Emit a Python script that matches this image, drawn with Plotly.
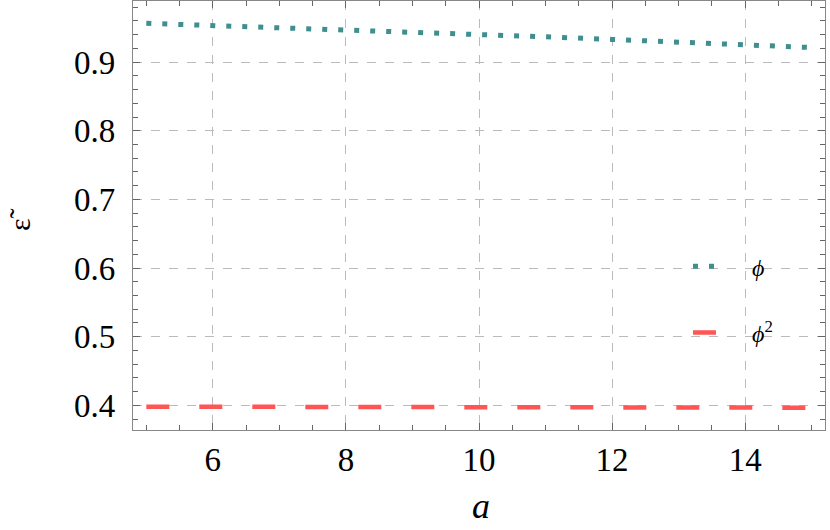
import plotly.graph_objects as go

a_vals = [5, 6, 7, 8, 9, 10, 11, 12, 13, 14, 15]
eps_phi = [0.9565, 0.9535, 0.9503, 0.9470, 0.9437, 0.9403, 0.9368, 0.9330, 0.9290, 0.9252, 0.9212]
eps_phi2 = [0.3980, 0.3979, 0.3977, 0.3976, 0.3974, 0.3973, 0.3971, 0.3970, 0.3968, 0.3967, 0.3965]

serif = "Liberation Serif"
pad = "&nbsp;" * 4

fig = go.Figure()
fig.add_trace(go.Scatter(
    x=a_vals, y=eps_phi, mode="lines", name=pad + "<i>ϕ</i>", legendgroup="g1",
    line=dict(color="#3f8f8f", width=5, dash="5px,11px"),
))
fig.add_trace(go.Scatter(
    x=a_vals, y=eps_phi2, mode="lines", name=pad + "<i>ϕ</i><sup>2</sup>", legendgroup="g2",
    line=dict(color="#ff5555", width=4.5, dash="23px,30px"),
))

axis_common = dict(
    showline=True, linecolor="#888888", linewidth=1.2, mirror="allticks",
    ticks="inside", ticklen=7, tickcolor="#666666", tickwidth=1,
    showgrid=True, gridcolor="#bbbbbb", griddash="dash", gridwidth=1,
    zeroline=False, automargin=False,
    tickfont=dict(family=serif, size=33, color="black"),
)

fig.update_xaxes(
    range=[4.8, 15.2], tick0=6, dtick=2,
    minor=dict(ticks="inside", ticklen=5, dtick=0.5, tick0=0, tickcolor="#666666", showgrid=False),
    ticklabelstandoff=0,
    **axis_common,
)
fig.update_yaxes(
    range=[0.364, 0.989], tick0=0.4, dtick=0.1, tickformat=".1f",
    minor=dict(ticks="inside", ticklen=5, dtick=0.02, tick0=0, tickcolor="#666666", showgrid=False),
    ticklabelstandoff=10,
    **axis_common,
)

fig.add_annotation(
    text="<i>a</i>", xref="paper", yref="paper", x=0.503, y=-0.176,
    xanchor="center", yanchor="middle", showarrow=False,
    font=dict(family=serif, size=36, color="black"),
)
fig.add_annotation(
    text="ε̃", xref="paper", yref="paper", x=-0.163, y=0.49,
    xanchor="center", yanchor="middle", showarrow=False, textangle=-90,
    font=dict(family=serif, size=30, color="black"),
)

fig.update_layout(
    width=830, height=530,
    margin=dict(l=133, r=5, t=1, b=100),
    plot_bgcolor="white", paper_bgcolor="white",
    legend=dict(
        x=0.802, y=0.433, xanchor="left", yanchor="top",
        bgcolor="rgba(0,0,0,0)", tracegroupgap=32,
        font=dict(family=serif, size=24, color="black"),
    ),
)

fig.write_html("out.html", config={"displayModeBar": False},
               post_script="document.body.style.margin='0';")
